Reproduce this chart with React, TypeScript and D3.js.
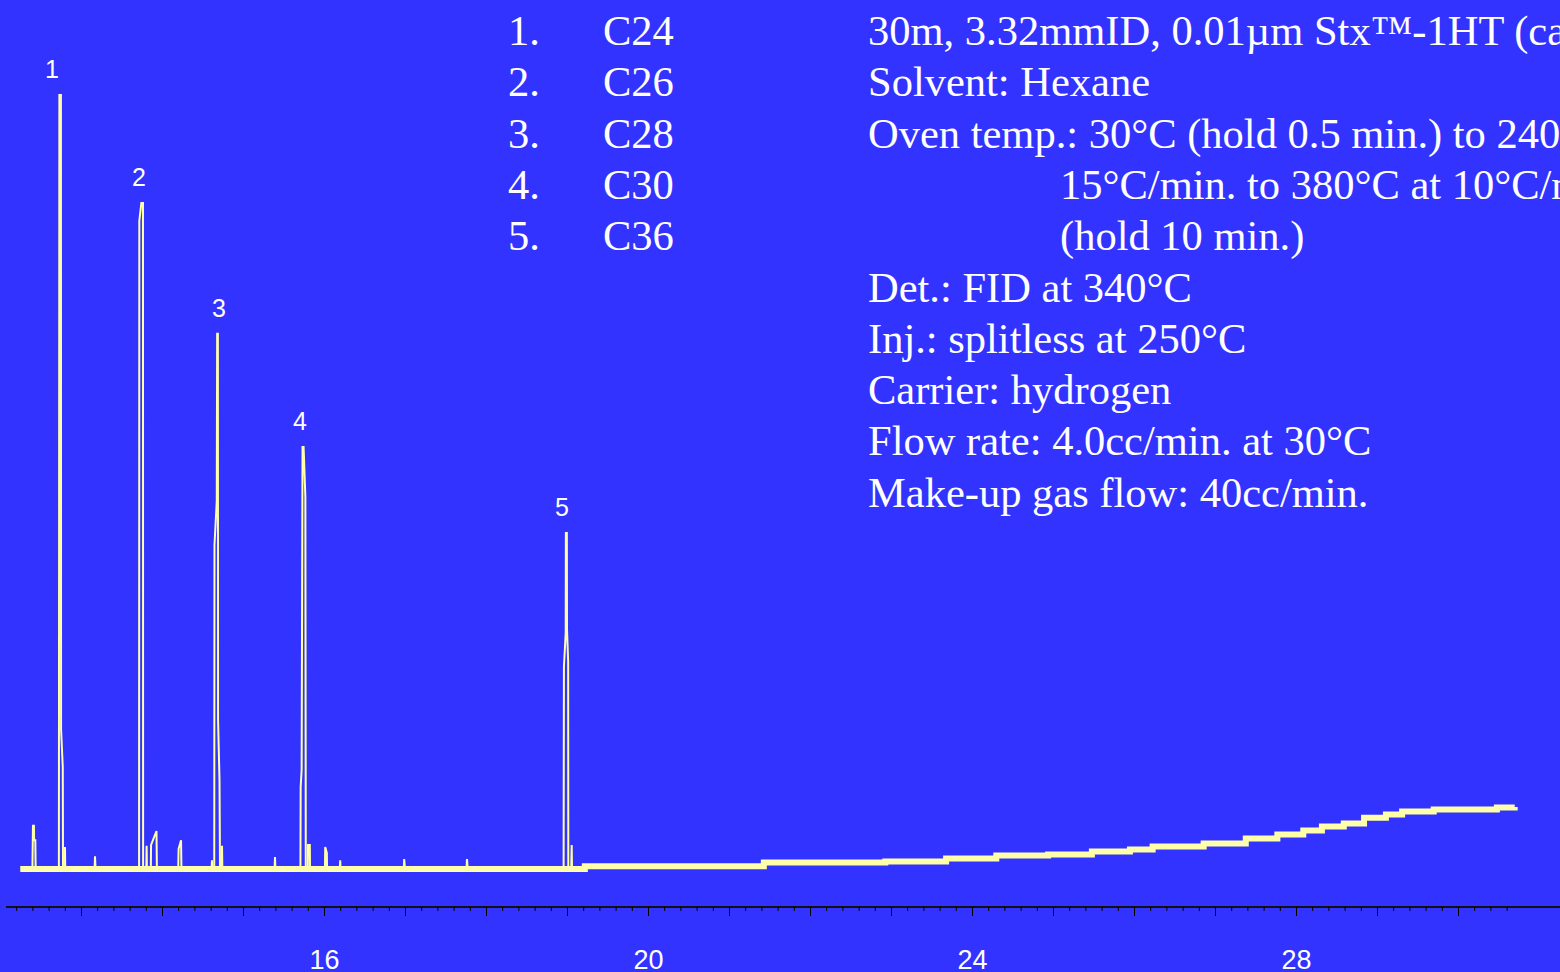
import React, { useEffect, useRef } from "react";
import * as d3 from "d3";

// peak table (left block)
const peakNumbers = ["1.", "2.", "3.", "4.", "5."];
const compounds = ["C24", "C26", "C28", "C30", "C36"];

// run conditions (right block); continued lines are indented
const conditions = [
  "30m, 3.32mmID, 0.01\u00b5m Stx\u2122-1HT (cat.# 10000)",
  "Solvent: Hexane",
  "Oven temp.: 30\u00b0C (hold 0.5 min.) to 240\u00b0C at",
  "15\u00b0C/min. to 380\u00b0C at 10\u00b0C/min.",
  "(hold 10 min.)",
  "Det.: FID at 340\u00b0C",
  "Inj.: splitless at 250\u00b0C",
  "Carrier: hydrogen",
  "Flow rate: 4.0cc/min. at 30\u00b0C",
  "Make-up gas flow: 40cc/min.",
];
const continued = [false, false, false, true, true, false, false, false, false, false];

// drifting baseline, [time (min), signal]
const baseline: [number, number][] = [
  [12.25, 0], [19.22, 0.35], [21.43, 0.8], [22.93, 0.95], [23.68, 1.3],
  [24.3, 1.7], [24.94, 1.8], [25.48, 2.2], [25.95, 2.45], [26.23, 2.8],
  [26.86, 3.2], [27.38, 3.8], [27.77, 4.3], [28.09, 4.8], [28.32, 5.3],
  [28.59, 5.7], [28.84, 6.4], [29.11, 6.8], [29.31, 7.2], [29.7, 7.45],
  [30.48, 7.7], [30.7, 7.75],
];

// peaks and small bumps sitting on the baseline, [time (min), signal]
const peakTraces: [number, number][][] = [
  [[12.4, 0], [12.407, 5.4], [12.419, 5.4], [12.421, 3.6], [12.436, 3.6], [12.44, 0]],
  [[12.727, 0], [12.733, 96.75], [12.752, 96.75], [12.754, 17.4], [12.775, 12.75], [12.778, 0]],
  [[12.798, 0], [12.802, 2.75], [12.806, 0]],
  [[13.168, 0], [13.173, 1.6], [13.18, 0]],
  [[13.717, 0], [13.72, 81], [13.745, 83.25], [13.765, 83.25], [13.767, 0]],
  [[13.806, 0], [13.81, 2.9], [13.814, 0]],
  [[13.862, 0], [13.865, 3.0], [13.932, 4.75], [13.937, 0]],
  [[14.2, 0], [14.205, 2.5], [14.235, 3.6], [14.24, 0]],
  [[14.612, 0], [14.617, 1.1], [14.622, 0]],
  [[14.645, 0], [14.648, 40.5], [14.676, 46], [14.681, 66.9], [14.69, 66.9], [14.692, 18.6], [14.71, 11.1], [14.716, 0]],
  [[14.737, 0], [14.741, 2.9], [14.745, 0]],
  [[15.39, 0], [15.395, 1.5], [15.4, 0]],
  [[15.709, 0], [15.712, 10.25], [15.724, 12.4], [15.735, 52.75], [15.748, 52.75], [15.77, 46.5], [15.775, 0]],
  [[15.8, 0], [15.803, 3.0], [15.825, 3.0], [15.828, 0]],
  [[16.012, 0], [16.015, 2.75], [16.035, 2.0], [16.038, 0]],
  [[16.195, 0], [16.2, 1.1], [16.205, 0]],
  [[16.985, 0], [16.99, 1.25], [17.0, 0]],
  [[17.76, 0], [17.765, 1.25], [17.775, 0]],
  [[18.958, 0], [18.962, 25.25], [18.984, 29.5], [18.986, 42], [18.998, 42], [19.0, 30], [19.014, 26], [19.016, 0]],
  [[19.052, 0], [19.058, 3.0], [19.062, 0]],
];

// peak labels
const peakLabels = ["1", "2", "3", "4", "5"];
const labelTimes = [12.642, 13.716, 14.704, 15.704, 18.938];
const peakApex = [96.75, 83.25, 66.9, 52.75, 42];

// x axis
const minorTicks = d3.range(61, 154).map(i => i / 5);
const majorTicks = d3.range(13, 31);
const labelledTicks = [16, 20, 24, 28];

const W = 1560;
const H = 972;

export default function App() {
  const ref = useRef<SVGSVGElement>(null);

  useEffect(() => {
    const svg = d3.select(ref.current);
    svg.selectAll("*").remove();

    const x = d3.scaleLinear().domain([12, 30]).range([0, 1458]);
    const y = d3.scaleLinear().domain([0, 100]).range([869, 69]);

    svg.append("rect").attr("width", W).attr("height", H).attr("fill", "#3333ff");

    // axis
    const axisY = 907;
    svg
      .append("line")
      .attr("x1", 6)
      .attr("x2", W)
      .attr("y1", axisY)
      .attr("y2", axisY)
      .attr("stroke", "#111")
      .attr("stroke-width", 2);

    const minor = svg
      .append("g")
      .attr("transform", `translate(0,${axisY})`)
      .call(
        d3
          .axisBottom(x)
          .tickValues(minorTicks)
          .tickSize(4)
          .tickFormat(() => "")
      );
    minor.select(".domain").remove();
    minor.attr("color", "#000");

    const major = svg
      .append("g")
      .attr("transform", `translate(0,${axisY})`)
      .call(
        d3
          .axisBottom(x)
          .tickValues(majorTicks)
          .tickSize(9)
          .tickPadding(34)
          .tickFormat(d => (labelledTicks.includes(+d) ? String(d) : ""))
      );
    major.select(".domain").remove();
    major
      .attr("color", "#000")
      .attr("font-family", "'Liberation Sans', Arial, sans-serif")
      .attr("font-size", 27);
    major.selectAll("text").attr("fill", "#fff");

    // chromatogram
    const line = d3
      .line<[number, number]>()
      .x(d => x(d[0]))
      .y(d => y(d[1]));

    svg
      .append("path")
      .datum(baseline)
      .attr("d", line.curve(d3.curveStepAfter))
      .attr("fill", "none")
      .attr("stroke", "#ffffaa")
      .attr("stroke-width", 6);

    line.curve(d3.curveLinear);
    svg
      .append("g")
      .selectAll("path")
      .data(peakTraces)
      .join("path")
      .attr("d", d => line(d))
      .attr("fill", "none")
      .attr("stroke", "#ffffaa")
      .attr("stroke-width", 2);

    svg
      .append("g")
      .attr("font-family", "'Liberation Sans', Arial, sans-serif")
      .attr("font-size", 25)
      .attr("fill", "#fff")
      .attr("text-anchor", "middle")
      .selectAll("text")
      .data(peakLabels)
      .join("text")
      .attr("x", (d, i) => x(labelTimes[i]))
      .attr("y", (d, i) => y(peakApex[i]) - 17)
      .text(d => d);

    // legend text
    const lineH = 51.3;
    const text = svg
      .append("g")
      .attr("font-family", "'Liberation Serif', 'Times New Roman', serif")
      .attr("font-size", 42.5)
      .attr("fill", "#fff");

    text
      .selectAll("text.num")
      .data(peakNumbers)
      .join("text")
      .attr("class", "num")
      .attr("x", 508)
      .attr("y", (d, i) => 45 + i * lineH)
      .text(d => d);

    text
      .selectAll("text.cmp")
      .data(compounds)
      .join("text")
      .attr("class", "cmp")
      .attr("x", 603)
      .attr("y", (d, i) => 45 + i * lineH)
      .text(d => d);

    text
      .selectAll("text.cond")
      .data(conditions)
      .join("text")
      .attr("class", "cond")
      .attr("x", (d, i) => (continued[i] ? 1060 : 868))
      .attr("y", (d, i) => 45 + i * lineH)
      .text(d => d);
  }, []);

  return (
    <svg
      ref={ref}
      width={W}
      height={H}
      style={{ position: "absolute", left: 0, top: 0, display: "block" }}
    />
  );
}
